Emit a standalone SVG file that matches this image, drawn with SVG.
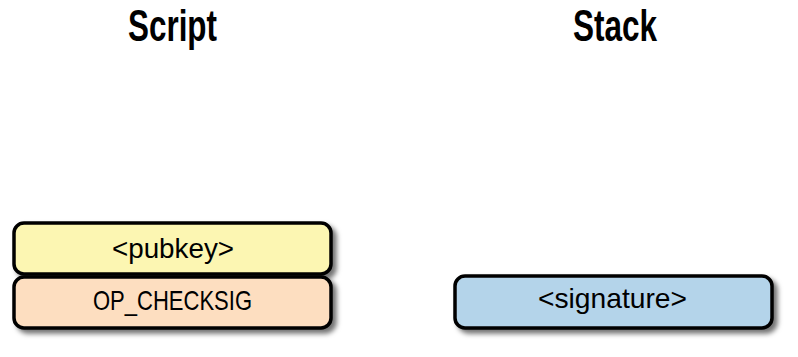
<svg xmlns="http://www.w3.org/2000/svg" width="798" height="357" viewBox="0 0 798 357">
<style>
.title{font-family:"Liberation Sans",Arial,sans-serif;font-weight:bold;font-size:44px;fill:#000}
.lbl{font-family:"Liberation Sans",Arial,sans-serif;font-size:28px;fill:#000}
.box{stroke:#000;stroke-width:3.5}
</style>
<defs>
<filter id="sh" x="-10%" y="-30%" width="125%" height="170%">
<feDropShadow dx="4" dy="4" stdDeviation="2.5" flood-color="#000" flood-opacity="0.55"/>
</filter>
</defs>
<rect width="798" height="357" fill="#fff"/>
<g id="title-script"><text class="title" x="0" y="0" text-anchor="middle" transform="translate(172.5,41) scale(0.714,1)">Script</text></g>
<g id="title-stack"><text class="title" x="0" y="0" text-anchor="middle" transform="translate(615,41) scale(0.716,1)">Stack</text></g>
<g id="node-pubkey">
<rect class="box" x="14" y="223" width="317" height="51" rx="10" fill="#fcf6b2" filter="url(#sh)"/>
<text class="lbl" x="173" y="258" text-anchor="middle" textLength="122" lengthAdjust="spacingAndGlyphs">&lt;pubkey&gt;</text>
</g>
<g id="node-checksig">
<rect class="box" x="14" y="277" width="317" height="51" rx="10" fill="#fddec0" filter="url(#sh)"/>
<text class="lbl" x="172.5" y="310" text-anchor="middle" textLength="159" lengthAdjust="spacingAndGlyphs">OP_CHECKSIG</text>
</g>
<g id="node-signature">
<rect class="box" x="455" y="276" width="317" height="52" rx="10" fill="#b4d4ea" filter="url(#sh)"/>
<text class="lbl" x="612.5" y="308" text-anchor="middle" textLength="149" lengthAdjust="spacingAndGlyphs">&lt;signature&gt;</text>
</g>
<g id="connectors"></g>
</svg>
